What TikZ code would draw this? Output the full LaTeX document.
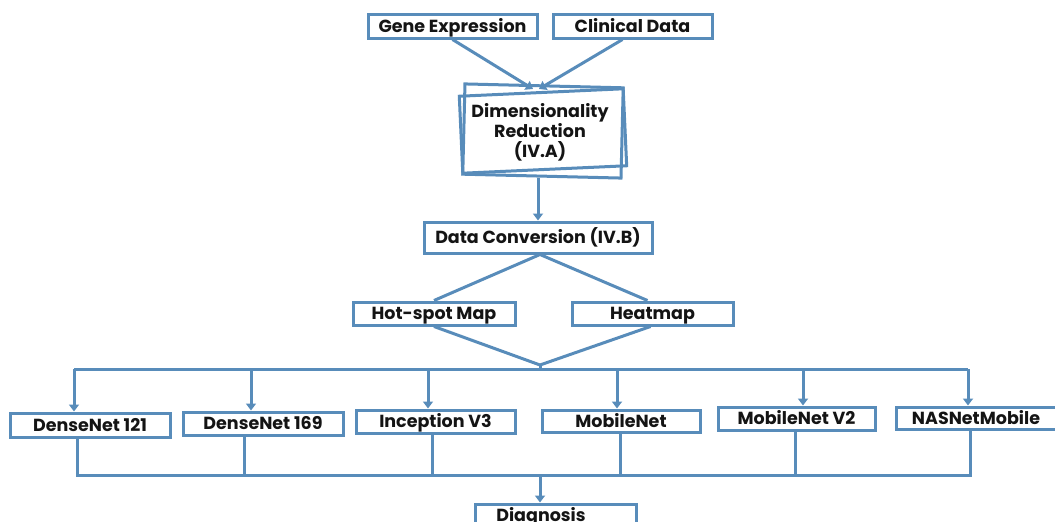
\documentclass[tikz,border=0pt]{standalone}
\usepackage{fontspec}
\setmainfont{Poppins}
\usetikzlibrary{arrows.meta}
\definecolor{flowblue}{RGB}{88,140,186}
\begin{document}
\begin{tikzpicture}[x=1pt,y=-1pt,
  box/.style={draw=flowblue, line width=3pt, inner sep=0pt, fill=white,
    text height=12.3pt, text depth=0pt,
    font=\fontsize{17.5}{20}\selectfont\bfseries, text=black!92},
  plain/.style={inner sep=0pt, font=\fontsize{17.5}{20}\selectfont\bfseries,
    text=black!92, align=center},
  link/.style={draw=flowblue, line width=3pt},
  arrow/.style={link, -{Triangle[width=10pt,length=7pt]}}]
\useasboundingbox (0,0) rectangle (1055,522);

% inputs
\node[box, minimum width=169, minimum height=24] (gene) at (452.5,26) {Gene Expression};
\node[box, minimum width=159, minimum height=24] (clin) at (632.5,26) {Clinical Data};

% dimensionality reduction: two slightly skewed frames
\node[inner sep=0pt, minimum width=160, minimum height=84] (dr) at (543,131) {};
\draw[link, rotate around={2.6:(dr.center)}] (dr.south west) rectangle (dr.north east);
\draw[link, rotate around={-1.4:(dr.center)}] ([yshift=-1]dr.south west) rectangle ([yshift=1]dr.north east);
\node[plain] (drtext) at ([xshift=-3,yshift=-1]dr.center) {Dimensionality\\Reduction\\(IV.A)};

\coordinate (drtop) at (533,89);
\draw[arrow] (gene.south) -- (drtop);
\draw[arrow] ([xshift=-10]clin.south) -- ([xshift=6]drtop);

% data conversion
\node[box, minimum width=228, minimum height=31] (conv) at (538,237.5) {Data Conversion (IV.B)};
\draw[arrow] (538,178) -- (conv.north);

% image representations
\node[box, minimum width=162, minimum height=23] (hot) at (434,313.5) {Hot-spot Map};
\node[box, minimum width=161, minimum height=23] (heat) at (652.5,313.5) {Heatmap};
\draw[link] (hot.north) -- ([xshift=2]conv.south) -- ([xshift=-5]heat.north);

\coordinate (join) at (540,365);
\draw[link] (hot.south) -- (join) -- ([xshift=-2]heat.south);

% models
\node[box, minimum width=160, minimum height=24] (m1) at (90,425) {DenseNet 121};
\node[box, minimum width=160, minimum height=23] (m2) at (263,423.5) {DenseNet 169};
\node[box, minimum width=159, minimum height=23] (m3) at (435.5,421.5) {Inception V3};
\node[box, minimum width=158, minimum height=22] (m4) at (621,421) {MobileNet};
\node[box, minimum width=157, minimum height=23] (m5) at (796.5,418.5) {MobileNet V2};
\node[box, minimum width=160, minimum height=22] (m6) at (976,418) {NASNetMobile};

\coordinate (busl) at (74,369);
\coordinate (busr) at (968,369);
\draw[link] (busl) -- (busr);
\draw[link] (join) -- (540,369);
\draw[arrow] (busl) -- ([xshift=-16]m1.north);
\draw[arrow] (251,369) -- ([xshift=-12]m2.north);
\draw[arrow] (428,369) -- ([xshift=-7.5]m3.north);
\draw[arrow] (617,369) -- ([xshift=-4]m4.north);
\draw[arrow] (803,369) -- ([xshift=6.5]m5.north);
\draw[arrow] (busr) -- ([xshift=-8]m6.north);

% collecting bus
\coordinate (busb) at (540,475);
\draw[link] ([xshift=-13]m1.south) |- (busb) -| ([xshift=-6]m6.south);
\draw[link] ([xshift=-19]m2.south) -- ++(0,40);
\draw[link] ([xshift=-3.5]m3.south) -- ++(0,42);
\draw[link] ([xshift=-1]m4.south) -- ++(0,43);
\draw[link] ([xshift=-1.5]m5.south) -- ++(0,45);

% outcome
\node[box, minimum width=161, minimum height=36] (diag) at (556,522) {};
\node[plain] (diagtext) at (541,517) {Diagnosis};
\draw[arrow] (busb) -- ([xshift=-16]diag.north);
\end{tikzpicture}
\end{document}
